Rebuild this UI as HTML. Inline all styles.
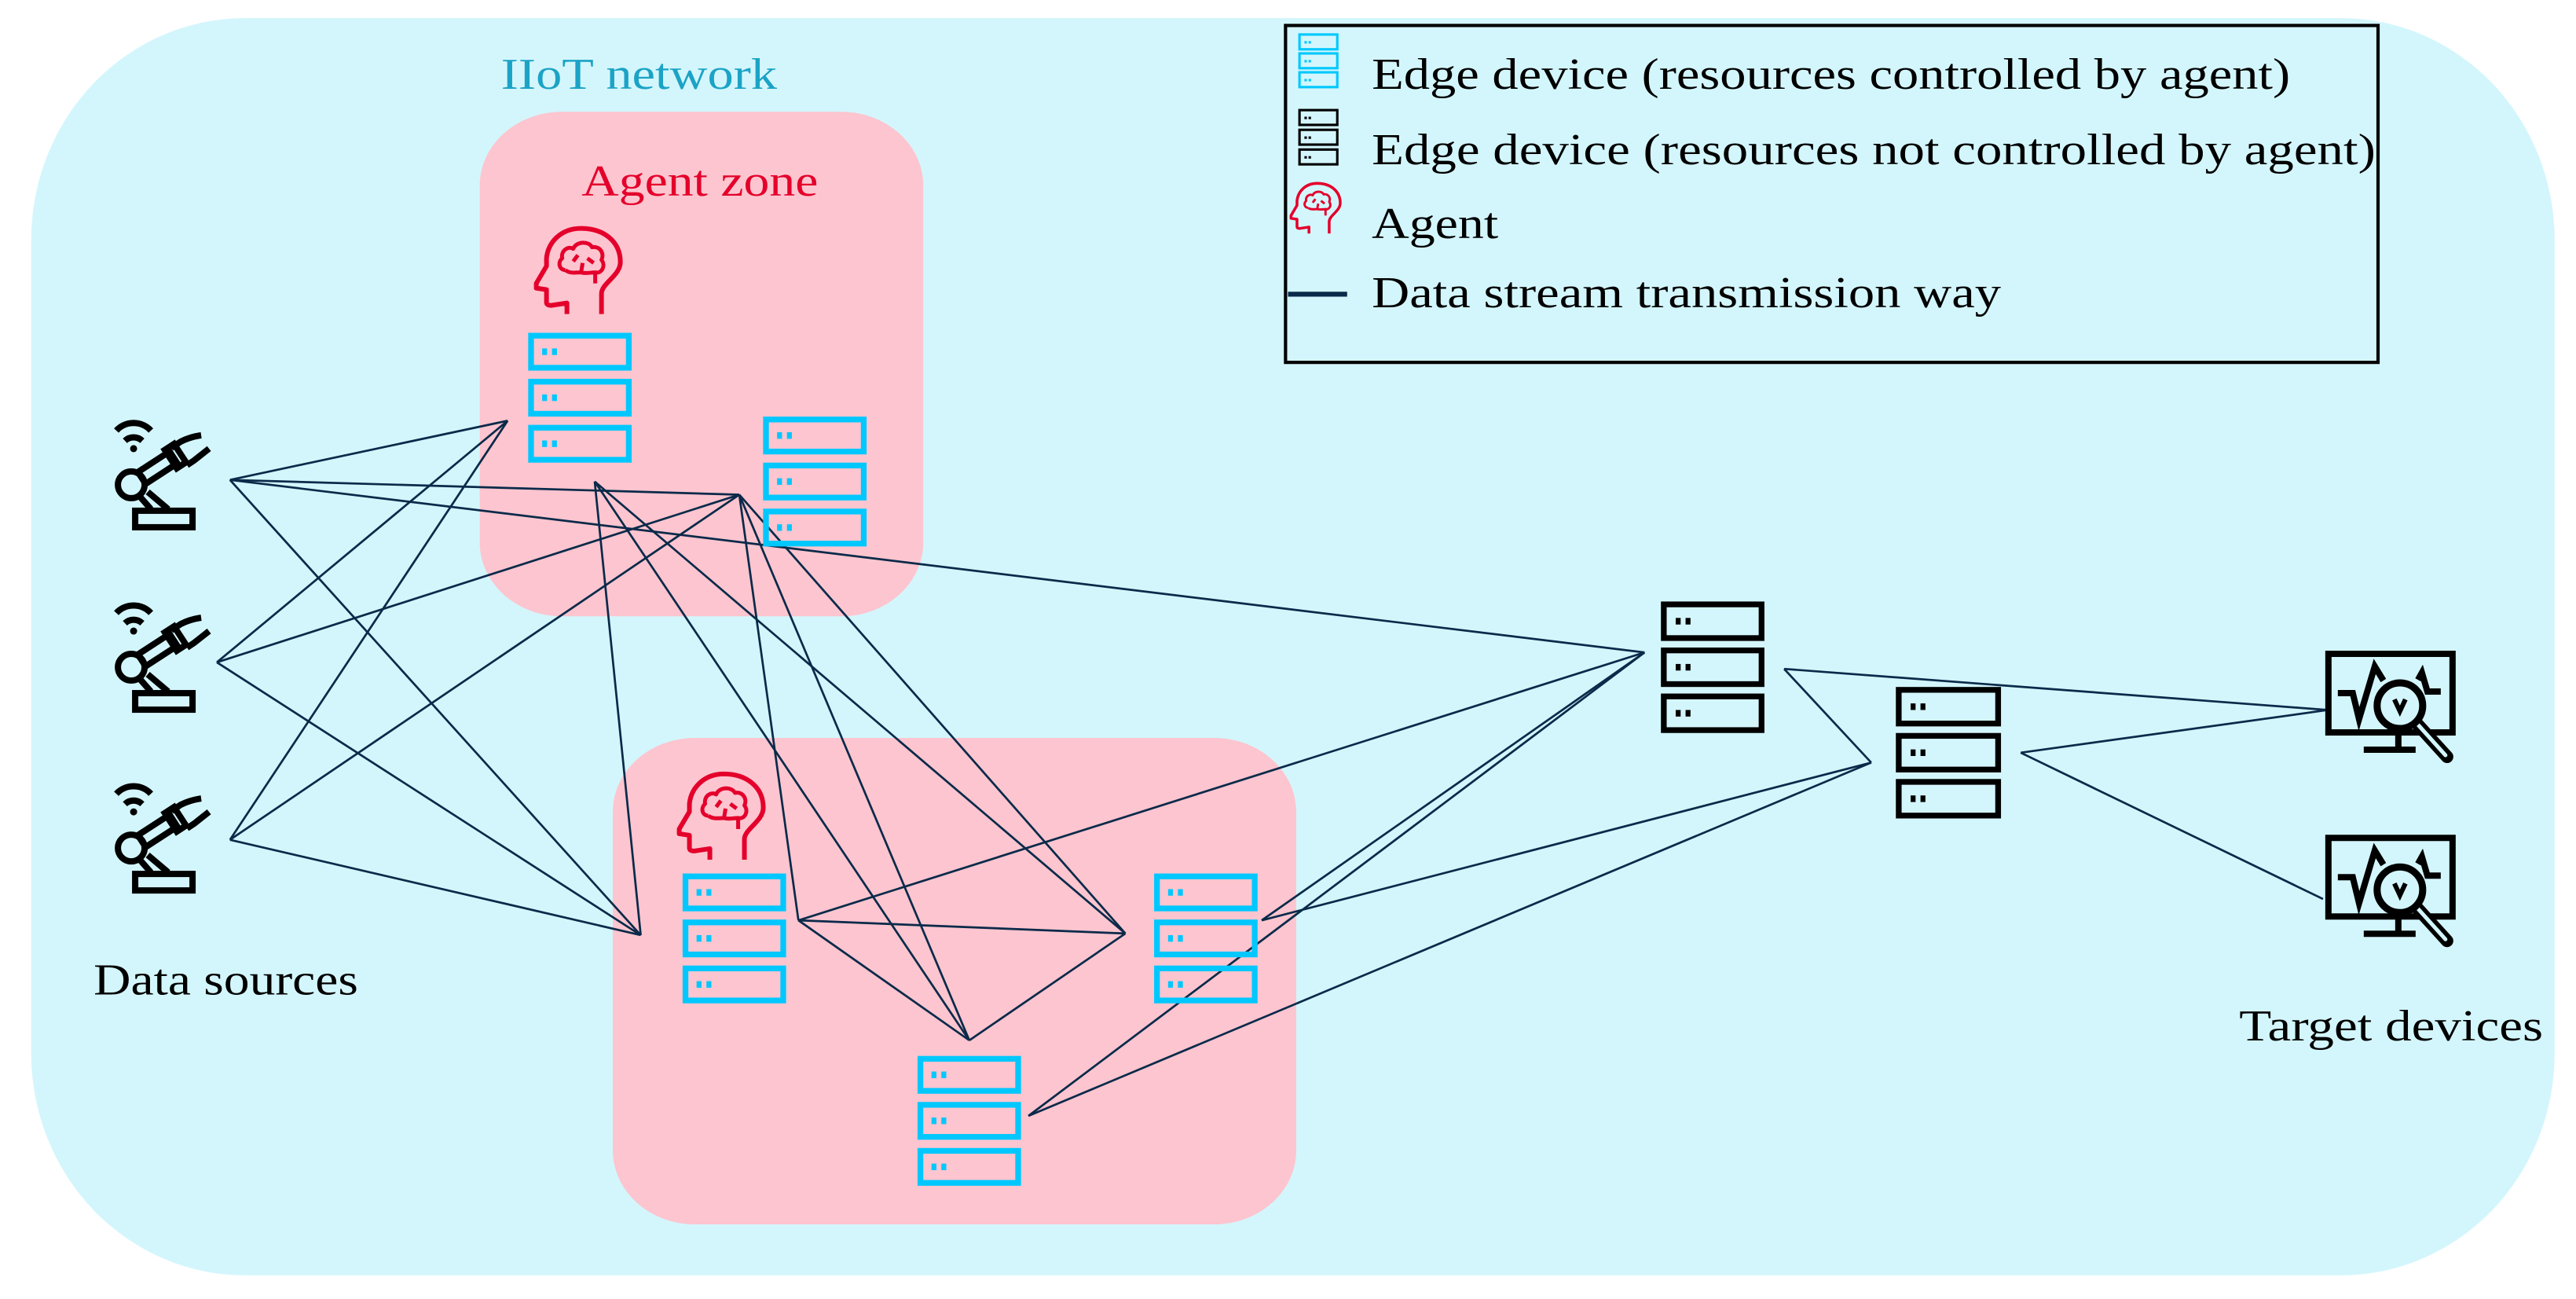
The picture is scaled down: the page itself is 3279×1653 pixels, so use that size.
<!DOCTYPE html>
<html><head><meta charset="utf-8"><style>
html,body{margin:0;padding:0;background:#fff;}
svg{display:block;}
</style></head><body>
<svg width="3279" height="1653" viewBox="0 0 1568 790.4" preserveAspectRatio="none" xmlns="http://www.w3.org/2000/svg" font-family="'Liberation Serif', 'Times New Roman', serif">
<defs>
<g id="robot" fill="none" stroke="#000" stroke-width="8">
  <path d="M18,28 A30,30 0 0 1 62,28"/>
  <path d="M29,41 A16,16 0 0 1 51,41"/>
  <circle cx="40" cy="51" r="4.5" fill="#000" stroke="none"/>
  <circle cx="37" cy="97" r="17"/>
  <rect x="42" y="130" width="73" height="21"/>
  <path d="M48,112 L62,128 M58,106 L84,128"/>
  <g transform="translate(37,97) rotate(-33)">
    <rect x="16" y="-9" width="48" height="18"/>
    <rect x="60" y="-14" width="14" height="28"/>
  </g>
  <path d="M88,50 L100,42 Q112,36 126,34"/>
  <path d="M108,72 L117,66 L136,51"/>
</g>
<g id="monitor" fill="none" stroke="#000" stroke-width="8">
  <rect x="14" y="12" width="158" height="100"/>
  <path d="M103,112 L103,132 M59,134 L125,134"/>
  <path d="M26,62 L45,62 L53,95 L73,28 L84,46" stroke-width="8"/>
  <path d="M128,45 L133,36 L140,60 L157,60" stroke-width="8"/>
  <path d="M125,99 L165,143" stroke-width="16" stroke-linecap="round"/>
  <path d="M127,101 L163,141" stroke="#d3f6fc" stroke-width="5" stroke-linecap="round"/>
  <circle cx="105" cy="78" r="29" fill="#d3f6fc" stroke-width="9"/>
  <path d="M98,70 L105,85 L112,70" stroke-width="6"/>
</g>
<g id="brain" fill="none" stroke="#e4002b" stroke-width="6" stroke-linejoin="round">
  <path d="M86,111 L86,85 C86,72 110,62 110,45 C110,18 88,2 60,2 C34,2 18,20 16,40 L16,50 L3,72 L3,78 L16,80 L16,96 Q16,100 22,100 L42,97 L42,111"/>
  <path d="M40,55 C32,55 30,45 36,40 C34,30 44,24 50,28 C54,18 70,18 74,26 C84,24 90,34 86,42 C92,50 86,60 78,58 L78,72 M60,58 L62,46 M50,44 L56,36 M68,40 L76,46 M40,55 C46,60 54,58 60,58 C66,60 72,58 78,58" stroke-width="5"/>
</g>
</defs>

<rect x="19" y="11" width="1536" height="765" rx="130" ry="135" fill="#d3f6fc"/>
<rect x="292" y="68" width="270" height="307" rx="50" ry="45" fill="#fdc5cf"/>
<rect x="373" y="449" width="416" height="296" rx="50" ry="45" fill="#fdc5cf"/>

<text x="305" y="54" font-size="27" fill="#1ba3c6" textLength="168" lengthAdjust="spacingAndGlyphs">IIoT network</text>
<text x="354" y="119" font-size="27" fill="#e4002b" textLength="144" lengthAdjust="spacingAndGlyphs">Agent zone</text>

<use href="#brain" transform="translate(325,138) scale(0.4782)"/>
<use href="#brain" transform="translate(412,470) scale(0.4782)"/>

<g stroke="#0a2a4a" stroke-width="1.3" fill="none">
<line x1="140" y1="292" x2="309" y2="256"/>
<line x1="132" y1="403" x2="309" y2="256"/>
<line x1="140" y1="511" x2="309" y2="256"/>
<line x1="140" y1="292" x2="450" y2="301"/>
<line x1="132" y1="403" x2="450" y2="301"/>
<line x1="140" y1="511" x2="450" y2="301"/>
<line x1="140" y1="292" x2="390" y2="569"/>
<line x1="132" y1="403" x2="390" y2="569"/>
<line x1="140" y1="511" x2="390" y2="569"/>
<line x1="140" y1="292" x2="1001" y2="397"/>
<line x1="362" y1="293" x2="390" y2="569"/>
<line x1="362" y1="293" x2="685" y2="568"/>
<line x1="362" y1="293" x2="590" y2="633"/>
<line x1="450" y1="301" x2="486" y2="560"/>
<line x1="450" y1="301" x2="590" y2="633"/>
<line x1="450" y1="301" x2="685" y2="568"/>
<line x1="486" y1="560" x2="685" y2="568"/>
<line x1="486" y1="560" x2="590" y2="633"/>
<line x1="685" y1="568" x2="590" y2="633"/>
<line x1="486" y1="560" x2="1001" y2="397"/>
<line x1="768" y1="560" x2="1001" y2="397"/>
<line x1="768" y1="560" x2="1139" y2="464"/>
<line x1="626" y1="679" x2="1001" y2="397"/>
<line x1="626" y1="679" x2="1139" y2="464"/>
<line x1="1086" y1="407" x2="1139" y2="464"/>
<line x1="1086" y1="407" x2="1417" y2="432"/>
<line x1="1230" y1="458" x2="1417" y2="432"/>
<line x1="1230" y1="458" x2="1414" y2="547"/>
</g>

<g fill="none" stroke="#00c8ff" stroke-width="3.5">
<rect x="323.25" y="204.25" width="59.5" height="19.5"/><rect x="323.25" y="232.25" width="59.5" height="19.5"/><rect x="323.25" y="260.25" width="59.5" height="19.5"/>
<rect x="466.25" y="255.25" width="59.5" height="19.5"/><rect x="466.25" y="283.25" width="59.5" height="19.5"/><rect x="466.25" y="311.25" width="59.5" height="19.5"/>
<rect x="417.25" y="533.25" width="59.5" height="19.5"/><rect x="417.25" y="561.25" width="59.5" height="19.5"/><rect x="417.25" y="589.25" width="59.5" height="19.5"/>
<rect x="704.25" y="533.25" width="59.5" height="19.5"/><rect x="704.25" y="561.25" width="59.5" height="19.5"/><rect x="704.25" y="589.25" width="59.5" height="19.5"/>
<rect x="560.25" y="644.25" width="59.5" height="19.5"/><rect x="560.25" y="672.25" width="59.5" height="19.5"/><rect x="560.25" y="700.25" width="59.5" height="19.5"/>
</g>
<g fill="#00c8ff">
<rect x="330" y="212" width="3" height="4"/><rect x="336" y="212" width="3" height="4"/><rect x="330" y="240" width="3" height="4"/><rect x="336" y="240" width="3" height="4"/><rect x="330" y="268" width="3" height="4"/><rect x="336" y="268" width="3" height="4"/>
<rect x="473" y="263" width="3" height="4"/><rect x="479" y="263" width="3" height="4"/><rect x="473" y="291" width="3" height="4"/><rect x="479" y="291" width="3" height="4"/><rect x="473" y="319" width="3" height="4"/><rect x="479" y="319" width="3" height="4"/>
<rect x="424" y="541" width="3" height="4"/><rect x="430" y="541" width="3" height="4"/><rect x="424" y="569" width="3" height="4"/><rect x="430" y="569" width="3" height="4"/><rect x="424" y="597" width="3" height="4"/><rect x="430" y="597" width="3" height="4"/>
<rect x="711" y="541" width="3" height="4"/><rect x="717" y="541" width="3" height="4"/><rect x="711" y="569" width="3" height="4"/><rect x="717" y="569" width="3" height="4"/><rect x="711" y="597" width="3" height="4"/><rect x="717" y="597" width="3" height="4"/>
<rect x="567" y="652" width="3" height="4"/><rect x="573" y="652" width="3" height="4"/><rect x="567" y="680" width="3" height="4"/><rect x="573" y="680" width="3" height="4"/><rect x="567" y="708" width="3" height="4"/><rect x="573" y="708" width="3" height="4"/>
</g>

<g fill="none" stroke="#000" stroke-width="3.5">
<rect x="1012.75" y="367.75" width="59.5" height="20.5"/><rect x="1012.75" y="395.75" width="59.5" height="20.5"/><rect x="1012.75" y="423.75" width="59.5" height="20.5"/>
<rect x="1155.75" y="419.75" width="60.5" height="20.5"/><rect x="1155.75" y="447.75" width="60.5" height="20.5"/><rect x="1155.75" y="475.75" width="60.5" height="20.5"/>
</g>
<g fill="#000">
<rect x="1020" y="376" width="3" height="4"/><rect x="1026" y="376" width="3" height="4"/><rect x="1020" y="404" width="3" height="4"/><rect x="1026" y="404" width="3" height="4"/><rect x="1020" y="432" width="3" height="4"/><rect x="1026" y="432" width="3" height="4"/>
<rect x="1163" y="428" width="3" height="4"/><rect x="1169" y="428" width="3" height="4"/><rect x="1163" y="456" width="3" height="4"/><rect x="1169" y="456" width="3" height="4"/><rect x="1163" y="484" width="3" height="4"/><rect x="1169" y="484" width="3" height="4"/>
</g>

<use href="#robot" transform="translate(62.2,248.6) scale(0.4782)"/>
<use href="#robot" transform="translate(62.2,359.6) scale(0.4782)"/>
<use href="#robot" transform="translate(62.2,469.6) scale(0.4782)"/>
<text x="57" y="605" font-size="27" fill="#000" textLength="161" lengthAdjust="spacingAndGlyphs">Data sources</text>

<use href="#monitor" transform="translate(1410.6,392.1) scale(0.4782)"/>
<use href="#monitor" transform="translate(1410.6,504.1) scale(0.4782)"/>
<text x="1363" y="633" font-size="27" fill="#000" textLength="185" lengthAdjust="spacingAndGlyphs">Target devices</text>

<rect x="782.5" y="15.5" width="665" height="205" fill="none" stroke="#000" stroke-width="2"/>
<g fill="none" stroke="#00c8ff" stroke-width="1.5">
<rect x="791" y="21" width="23" height="9"/><rect x="791" y="32.5" width="23" height="9"/><rect x="791" y="44" width="23" height="9"/>
</g>
<g fill="#00c8ff"><rect x="794" y="25" width="1.5" height="1.5"/><rect x="796.5" y="25" width="1.5" height="1.5"/><rect x="794" y="36.5" width="1.5" height="1.5"/><rect x="796.5" y="36.5" width="1.5" height="1.5"/><rect x="794" y="48" width="1.5" height="1.5"/><rect x="796.5" y="48" width="1.5" height="1.5"/></g>
<g fill="none" stroke="#000" stroke-width="1.5">
<rect x="791" y="67" width="23" height="9"/><rect x="791" y="79" width="23" height="9"/><rect x="791" y="91" width="23" height="9"/>
</g>
<g fill="#000"><rect x="794" y="71" width="1.5" height="1.5"/><rect x="796.5" y="71" width="1.5" height="1.5"/><rect x="794" y="83" width="1.5" height="1.5"/><rect x="796.5" y="83" width="1.5" height="1.5"/><rect x="794" y="95" width="1.5" height="1.5"/><rect x="796.5" y="95" width="1.5" height="1.5"/></g>
<use href="#brain" transform="translate(785,111) scale(0.28)"/>
<line x1="784" y1="179" x2="820" y2="179" stroke="#0a2a4a" stroke-width="3"/>
<g font-size="27" fill="#000">
<text x="835" y="54" textLength="559" lengthAdjust="spacingAndGlyphs">Edge device (resources controlled by agent)</text>
<text x="835" y="100" textLength="611" lengthAdjust="spacingAndGlyphs">Edge device (resources not controlled by agent)</text>
<text x="835" y="145" textLength="77" lengthAdjust="spacingAndGlyphs">Agent</text>
<text x="835" y="187" textLength="383" lengthAdjust="spacingAndGlyphs">Data stream transmission way</text>
</g>
</svg>
</body></html>
